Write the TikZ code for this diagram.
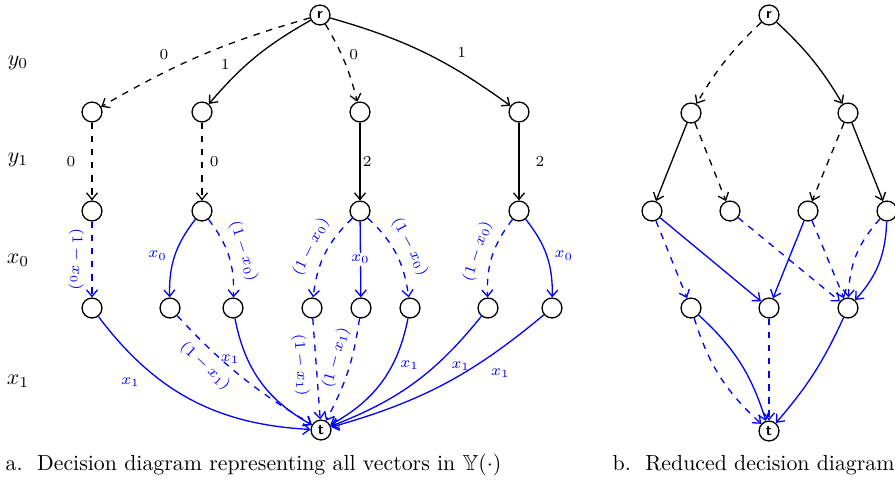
\documentclass[tikz,border=0pt]{standalone}
\usepackage{amsmath, amssymb}
\usepackage{tikz}
\usetikzlibrary{arrows.meta}

\begin{document}
\begin{tikzpicture}[
    x=0.0161cm, y=-0.0161cm,
    >={Straight Barb[length=3pt, width=5pt]},
    semithick,
    vtx/.style={
        draw,
        circle,
        fill=white,
        minimum size=0.32cm,
        inner sep=0pt,
        font=\scriptsize\sffamily\bfseries
    },
    lbl/.style={font=\scriptsize},
    lo/.style={->, dashed},
    hi/.style={->},
    blo/.style={->, dashed, blue},
    bhi/.style={->, blue}
]
    \useasboundingbox (0,0) rectangle (895,481);

    % Row labels
    \node (ly0) at (18,63) {$y_0$};
    \node (ly1) at (18,160) {$y_1$};
    \node (lx0) at (18,260) {$x_0$};
    \node (lx1) at (18,381) {$x_1$};

    % Nodes (full diagram)
    \node[vtx] (r) at (320,15) {r};
    \node[vtx] (a1) at (92,112) {};
    \node[vtx] (b1) at (202,112) {};
    \node[vtx] (c1) at (360,112) {};
    \node[vtx] (d1) at (519,112) {};
    \node[vtx] (a2) at (92,211) {};
    \node[vtx] (b2) at (202,211) {};
    \node[vtx] (c2) at (360,211) {};
    \node[vtx] (d2) at (519,211) {};
    \node[vtx] (a3) at (92,308) {};
    \node[vtx] (b3) at (170,308) {};
    \node[vtx] (c3) at (233,308) {};
    \node[vtx] (d3) at (312,308) {};
    \node[vtx] (e3) at (361,308) {};
    \node[vtx] (f3) at (410,308) {};
    \node[vtx] (g3) at (488,308) {};
    \node[vtx] (h3) at (552,308) {};
    \node[vtx] (t) at (321,430) {t};

    % Arrows (full diagram)
    \draw[lo] (r) to[bend right=7] node[lbl, pos=0.7, above=2pt] {0} (a1);
    \draw[hi] (r) to[bend right=10] node[lbl, pos=0.6, left=4pt] {1} (b1);
    \draw[lo] (r) to[bend left=8] node[lbl, pos=0.4, right] {0} (c1);
    \draw[hi] (r) to[bend left=10] node[lbl, pos=0.65, above right] {1} (d1);

    \draw[lo] (a1) -- node[lbl, left=4pt] {0} (a2);
    \draw[lo] (b1) -- node[lbl, right] {0} (b2);
    \draw[hi] (c1) -- node[lbl, right, fill=white, inner sep=1pt] {2} (c2);
    \draw[hi] (d1) -- node[lbl, right=4pt] {2} (d2);

    \draw[blo] (a2) -- node[lbl, blue, sloped, below] {$(1-x_0)$} (a3);
    \draw[bhi] (b2) to[bend right=20] node[lbl, blue, left] {$x_0$} (b3);
    \draw[blo] (b2) to[bend left=20] node[lbl, blue, sloped, above] {$(1-x_0)$} (c3);
    \draw[blo] (c2) to[bend right=20] node[lbl, blue, sloped, above] {$(1-x_0)$} (d3);
    \draw[bhi] (c2) -- node[lbl, blue, fill=white, inner sep=1pt] {$x_0$} (e3);
    \draw[blo] (c2) to[bend left=20] node[lbl, blue, sloped, above] {$(1-x_0)$} (f3);
    \draw[blo] (d2) to[bend right=20] node[lbl, blue, sloped, above] {$(1-x_0)$} (g3);
    \draw[bhi] (d2) to[bend left=20] node[lbl, blue, right] {$x_0$} (h3);

    \draw[bhi] (a3) to[bend right=25] node[lbl, blue, pos=0.28, below left=0pt] {$x_1$} (t);
    \draw[blo] (b3) to[bend right=8] node[lbl, blue, sloped, below, pos=0.3] {$(1-x_1)$} (t);
    \draw[bhi] (c3) to[bend right=25] node[lbl, blue, pos=0.3, left] {$x_1$} (t);
    \draw[blo] (d3) -- node[lbl, blue, sloped, below, pos=0.45] {$(1-x_1)$} (t);
    \draw[blo] (e3) to[bend left=10] node[lbl, blue, sloped, above, pos=0.4] {$(1-x_1)$} (t);
    \draw[bhi] (f3) to[bend left=25] node[lbl, blue, pos=0.35, right] {$x_1$} (t);
    \draw[bhi] (g3) to[bend left=15] node[lbl, blue, pos=0.35, right=4pt] {$x_1$} (t);
    \draw[bhi] (h3) to[bend left=12] node[lbl, blue, pos=0.3, below right] {$x_1$} (t);

    % Nodes (reduced diagram)
    \node[vtx] (rr) at (769,15) {r};
    \node[vtx] (p1) at (691,113) {};
    \node[vtx] (q1) at (848,113) {};
    \node[vtx] (p2) at (652,211) {};
    \node[vtx] (p2b) at (730,211) {};
    \node[vtx] (q2) at (808,211) {};
    \node[vtx] (q2b) at (887,211) {};
    \node[vtx] (s3) at (691,308) {};
    \node[vtx] (s3b) at (769,308) {};
    \node[vtx] (s3c) at (848,308) {};
    \node[vtx] (rt) at (769,431) {t};

    % Arrows (reduced diagram)
    \draw[lo] (rr) to[bend right=8] (p1);
    \draw[hi] (rr) to[bend left=8] (q1);
    \draw[hi] (p1) -- (p2);
    \draw[lo] (p1) -- (p2b);
    \draw[lo] (q1) -- (q2);
    \draw[hi] (q1) -- (q2b);
    \draw[blo] (p2) -- (s3);
    \draw[bhi] (p2) -- (s3b);
    \draw[blo] (p2b) -- (s3c);
    \draw[bhi] (q2) -- (s3b);
    \draw[blo] (q2) -- (s3c);
    \draw[blo] (q2b) to[bend right=20] (s3c);
    \draw[bhi] (q2b) to[bend left=20] (s3c);
    \draw[blo] (s3) to[bend right=15] (rt);
    \draw[bhi] (s3) to[bend left=15] (rt);
    \draw[blo] (s3b) -- (rt);
    \draw[bhi] (s3c) to[bend left=8] (rt);

    % Captions
    \node[anchor=base west, inner sep=0pt] (capa) at (5,470)
    {a.\ \ Decision diagram representing all vectors in $\mathbb{Y}(\cdot)$};
    \node[anchor=base west, inner sep=0pt] (capb) at (612,470)
    {b.\ \ Reduced decision diagram};

\end{tikzpicture}
\end{document}
